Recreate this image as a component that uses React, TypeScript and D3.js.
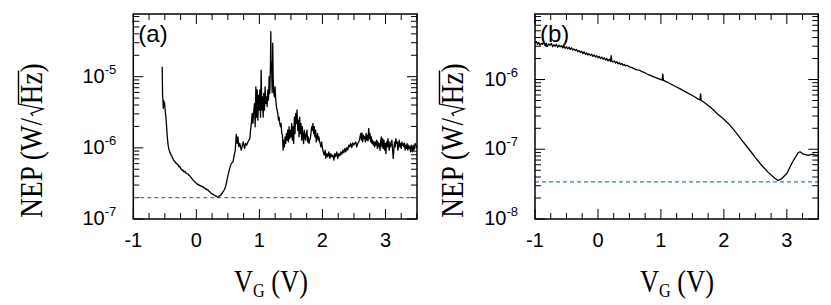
import React from 'react';
import * as d3 from 'd3';

// gate voltage tick labels (both panels)
const xTickLabels = [-1, 0, 1, 2, 3];
// decade labels on the log axes
const yLabelsA = [1e-7, 1e-6, 1e-5];
const yLabelsB = [1e-8, 1e-7, 1e-6];
// dashed NEP floor lines
const floorA = 2.0e-7;
const floorB = 3.4e-8;

// panel (a): [VG (V), NEP (W/sqrt(Hz))]
const curveA: [number, number][] = [
  [-0.542, 1.38e-5], [-0.538, 8.0e-6], [-0.536, 5.5e-6], [-0.530, 4.6e-6], [-0.524, 3.6e-6],
  [-0.517, 4.6e-6], [-0.510, 3.9e-6], [-0.504, 4.3e-6], [-0.494, 3.3e-6], [-0.483, 2.7e-6],
  [-0.472, 2.0e-6], [-0.463, 1.5e-6], [-0.455, 1.25e-6], [-0.447, 1.09e-6], [-0.439, 9.8e-7],
  [-0.431, 9.3e-7], [-0.420, 8.6e-7], [-0.409, 8.4e-7], [-0.399, 7.8e-7], [-0.389, 7.7e-7],
  [-0.379, 7.2e-7], [-0.368, 7.0e-7], [-0.355, 6.5e-7], [-0.341, 6.5e-7], [-0.328, 6.1e-7],
  [-0.314, 6.1e-7], [-0.300, 5.8e-7], [-0.289, 5.8e-7], [-0.275, 5.4e-7], [-0.262, 5.5e-7],
  [-0.248, 5.1e-7], [-0.235, 5.0e-7], [-0.222, 4.8e-7], [-0.210, 4.85e-7], [-0.196, 4.6e-7],
  [-0.183, 4.7e-7], [-0.170, 4.45e-7], [-0.156, 4.4e-7], [-0.143, 4.3e-7], [-0.131, 4.3e-7],
  [-0.117, 4.1e-7], [-0.104, 4.05e-7], [-0.090, 3.9e-7], [-0.077, 3.8e-7], [-0.064, 3.62e-7],
  [-0.052, 3.52e-7], [-0.038, 3.42e-7], [-0.025, 3.35e-7], [-0.011, 3.22e-7], [0.002, 3.18e-7],
  [0.015, 3.06e-7], [0.027, 3.08e-7], [0.040, 2.98e-7], [0.054, 3.0e-7], [0.067, 2.9e-7],
  [0.081, 2.92e-7], [0.094, 2.83e-7], [0.106, 2.84e-7], [0.120, 2.74e-7], [0.133, 2.73e-7],
  [0.147, 2.64e-7], [0.160, 2.64e-7], [0.172, 2.55e-7], [0.185, 2.56e-7], [0.199, 2.46e-7],
  [0.212, 2.42e-7], [0.226, 2.32e-7], [0.239, 2.3e-7], [0.252, 2.24e-7], [0.264, 2.24e-7],
  [0.278, 2.17e-7], [0.291, 2.17e-7], [0.305, 2.1e-7], [0.318, 2.1e-7], [0.330, 2.05e-7],
  [0.343, 2.03e-7], [0.356, 2.07e-7], [0.370, 2.12e-7], [0.384, 2.15e-7], [0.397, 2.23e-7],
  [0.410, 2.3e-7], [0.422, 2.4e-7], [0.436, 2.5e-7], [0.449, 2.62e-7], [0.462, 2.85e-7],
  [0.475, 3.15e-7], [0.502, 4.1e-7], [0.528, 5.1e-7], [0.554, 6.0e-7], [0.581, 6.35e-7],
  [0.596, 7.5e-7], [0.618, 9.3e-7], [0.633, 1.56e-6], [0.649, 1.15e-6], [0.660, 1.43e-6],
  [0.675, 1.03e-6], [0.691, 1.15e-6], [0.712, 9.3e-7], [0.728, 1.06e-6], [0.744, 1.21e-6],
  [0.765, 9.8e-7], [0.781, 1.15e-6], [0.797, 1.09e-6], [0.818, 1.21e-6], [0.833, 1.28e-6],
  [0.849, 1.35e-6], [0.860, 1.77e-6], [0.870, 2.08e-6], [0.886, 3.05e-6], [0.897, 2.2e-6],
  [0.912, 3.4e-6], [0.923, 4.2e-6], [0.933, 1.98e-6], [0.944, 7.2e-6], [0.955, 2.7e-6],
  [0.965, 6.5e-6], [0.976, 2.45e-6], [0.986, 5.5e-6], [0.997, 3.4e-6], [1.007, 6.5e-6],
  [1.018, 2.7e-6], [1.028, 1.24e-5], [1.039, 3.4e-6], [1.049, 5.2e-6], [1.060, 2.7e-6],
  [1.070, 5.8e-6], [1.081, 3.4e-6], [1.091, 7.2e-6], [1.102, 4.2e-6], [1.113, 5.2e-6],
  [1.123, 3.8e-6], [1.134, 6.5e-6], [1.144, 4.7e-6], [1.155, 1.0e-5], [1.165, 5.8e-6],
  [1.176, 1.5e-5], [1.181, 4.31e-5], [1.186, 1.2e-5], [1.192, 1.6e-5], [1.203, 6.0e-6],
  [1.212, 2.95e-5], [1.218, 1.0e-5], [1.228, 5.8e-6], [1.239, 5.2e-6], [1.249, 7.2e-6],
  [1.260, 4.7e-6], [1.270, 3.8e-6], [1.281, 3.4e-6], [1.292, 3.05e-6], [1.302, 2.45e-6],
  [1.313, 2.7e-6], [1.323, 2.2e-6], [1.334, 1.98e-6], [1.344, 2.2e-6], [1.355, 1.59e-6],
  [1.365, 1.51e-6], [1.376, 9.3e-7], [1.386, 1.28e-6], [1.397, 1.03e-6], [1.407, 1.43e-6],
  [1.418, 1.15e-6], [1.428, 1.59e-6], [1.439, 1.28e-6], [1.450, 1.77e-6], [1.460, 1.21e-6],
  [1.471, 1.98e-6], [1.481, 1.35e-6], [1.492, 1.77e-6], [1.502, 1.43e-6], [1.513, 2.2e-6],
  [1.523, 1.28e-6], [1.534, 1.98e-6], [1.544, 1.15e-6], [1.555, 2.7e-6], [1.565, 1.59e-6],
  [1.576, 3.05e-6], [1.586, 2.2e-6], [1.597, 3.4e-6], [1.608, 1.77e-6], [1.618, 2.45e-6],
  [1.629, 1.43e-6], [1.639, 2.7e-6], [1.650, 1.59e-6], [1.660, 2.2e-6], [1.671, 1.28e-6],
  [1.681, 1.98e-6], [1.692, 1.43e-6], [1.702, 1.15e-6], [1.713, 1.77e-6], [1.723, 1.43e-6],
  [1.734, 1.28e-6], [1.744, 1.59e-6], [1.755, 1.77e-6], [1.766, 1.21e-6], [1.776, 1.43e-6],
  [1.787, 1.15e-6], [1.797, 1.28e-6], [1.808, 1.35e-6], [1.818, 1.59e-6], [1.829, 1.98e-6],
  [1.839, 1.77e-6], [1.850, 2.2e-6], [1.860, 1.59e-6], [1.871, 1.98e-6], [1.881, 1.43e-6],
  [1.892, 1.77e-6], [1.902, 1.21e-6], [1.913, 1.43e-6], [1.923, 1.59e-6], [1.934, 1.28e-6],
  [1.944, 1.43e-6], [1.955, 1.21e-6], [1.966, 1.15e-6], [1.976, 1.03e-6], [1.987, 1.21e-6],
  [1.997, 1.03e-6], [2.012, 8.8e-7], [2.028, 7.9e-7], [2.044, 9.3e-7], [2.054, 7.1e-7],
  [2.070, 8.3e-7], [2.086, 7.5e-7], [2.102, 8.8e-7], [2.118, 7.1e-7], [2.133, 8.3e-7],
  [2.149, 7.5e-7], [2.165, 7.9e-7], [2.181, 6.7e-7], [2.197, 8.3e-7], [2.212, 7.5e-7],
  [2.228, 8.8e-7], [2.244, 7.1e-7], [2.260, 8.3e-7], [2.276, 7.7e-7], [2.291, 8.8e-7],
  [2.307, 8.1e-7], [2.323, 9.3e-7], [2.339, 8.5e-7], [2.354, 9.8e-7], [2.370, 8.8e-7],
  [2.386, 1.01e-6], [2.402, 9.3e-7], [2.418, 1.09e-6], [2.433, 1.03e-6], [2.449, 1.15e-6],
  [2.465, 1.01e-6], [2.481, 1.17e-6], [2.497, 1.09e-6], [2.512, 1.15e-6], [2.528, 1.21e-6],
  [2.544, 1.03e-6], [2.560, 1.15e-6], [2.576, 1.21e-6], [2.591, 1.35e-6], [2.607, 1.59e-6],
  [2.618, 1.28e-6], [2.628, 1.62e-6], [2.639, 1.21e-6], [2.649, 1.51e-6], [2.660, 1.35e-6],
  [2.670, 1.43e-6], [2.681, 1.21e-6], [2.692, 1.59e-6], [2.702, 1.28e-6], [2.713, 1.51e-6],
  [2.723, 1.25e-6], [2.734, 1.87e-6], [2.744, 1.35e-6], [2.755, 1.59e-6], [2.765, 1.21e-6],
  [2.776, 1.43e-6], [2.786, 1.15e-6], [2.797, 1.28e-6], [2.807, 1.09e-6], [2.818, 1.21e-6],
  [2.828, 1.03e-6], [2.839, 1.21e-6], [2.849, 1.09e-6], [2.860, 1.28e-6], [2.871, 9.8e-7],
  [2.881, 1.21e-6], [2.892, 1.03e-6], [2.902, 1.15e-6], [2.913, 9.3e-7], [2.923, 1.21e-6],
  [2.934, 1.43e-6], [2.944, 1.03e-6], [2.955, 1.35e-6], [2.965, 9.8e-7], [2.976, 1.28e-6],
  [2.986, 9.3e-7], [2.997, 1.15e-6], [3.007, 8.3e-7], [3.018, 1.21e-6], [3.029, 1.03e-6],
  [3.039, 1.35e-6], [3.050, 1.09e-6], [3.060, 9.3e-7], [3.071, 1.21e-6], [3.081, 1.03e-6],
  [3.092, 1.15e-6], [3.102, 1.28e-6], [3.113, 9.3e-7], [3.123, 7.1e-7], [3.134, 9.8e-7],
  [3.144, 1.21e-6], [3.155, 1.03e-6], [3.165, 1.35e-6], [3.176, 1.15e-6], [3.186, 1.21e-6],
  [3.197, 9.3e-7], [3.207, 1.09e-6], [3.218, 1.28e-6], [3.229, 1.03e-6], [3.239, 1.15e-6],
  [3.250, 9.8e-7], [3.260, 1.21e-6], [3.271, 1.09e-6], [3.281, 1.15e-6], [3.292, 1.03e-6],
  [3.302, 1.17e-6], [3.313, 9.3e-7], [3.323, 1.09e-6], [3.334, 9.8e-7], [3.344, 1.15e-6],
  [3.355, 9.3e-7], [3.366, 1.09e-6], [3.376, 9.8e-7], [3.387, 1.03e-6], [3.397, 8.8e-7],
  [3.408, 1.09e-6], [3.418, 9.8e-7], [3.429, 8.8e-7], [3.439, 1.09e-6], [3.450, 9.3e-7],
  [3.460, 1.03e-6], [3.471, 1.15e-6], [3.500, 1.0e-6],
];

// panel (b)
const curveB: [number, number][] = [
  [-1.00, 3.3e-6], [-0.98, 3.5e-6], [-0.96, 3.2e-6], [-0.94, 3.4e-6], [-0.92, 3.1e-6],
  [-0.90, 3.3e-6], [-0.88, 3.2e-6], [-0.86, 3.45e-6], [-0.84, 3.1e-6], [-0.82, 3.3e-6],
  [-0.80, 3.0e-6], [-0.78, 3.25e-6], [-0.76, 3.1e-6], [-0.74, 3.3e-6], [-0.72, 2.95e-6],
  [-0.70, 3.15e-6], [-0.68, 3.0e-6], [-0.66, 3.2e-6], [-0.64, 2.9e-6], [-0.62, 3.1e-6],
  [-0.60, 2.95e-6], [-0.58, 3.05e-6], [-0.56, 2.85e-6], [-0.54, 3.0e-6], [-0.52, 2.8e-6],
  [-0.50, 2.95e-6], [-0.48, 2.75e-6], [-0.46, 2.9e-6], [-0.44, 2.7e-6], [-0.42, 2.85e-6],
  [-0.40, 2.65e-6], [-0.38, 2.75e-6], [-0.36, 2.6e-6], [-0.34, 2.7e-6], [-0.32, 2.5e-6],
  [-0.30, 2.6e-6], [-0.28, 2.45e-6], [-0.26, 2.55e-6], [-0.24, 2.35e-6], [-0.22, 2.5e-6],
  [-0.20, 2.3e-6], [-0.18, 2.4e-6], [-0.16, 2.25e-6], [-0.14, 2.35e-6], [-0.12, 2.2e-6],
  [-0.10, 2.3e-6], [-0.08, 2.15e-6], [-0.06, 2.25e-6], [-0.04, 2.1e-6], [-0.02, 2.2e-6],
  [0.00, 2.05e-6], [0.02, 2.15e-6], [0.04, 2.0e-6], [0.06, 2.1e-6], [0.08, 1.95e-6],
  [0.10, 2.05e-6], [0.12, 1.9e-6], [0.14, 2.0e-6], [0.16, 1.85e-6], [0.18, 1.95e-6],
  [0.20, 1.82e-6], [0.21, 2.2e-6], [0.22, 1.85e-6], [0.24, 1.78e-6], [0.26, 1.85e-6],
  [0.28, 1.72e-6], [0.30, 1.8e-6], [0.32, 1.68e-6], [0.34, 1.74e-6], [0.36, 1.64e-6],
  [0.38, 1.7e-6], [0.40, 1.6e-6], [0.42, 1.65e-6], [0.44, 1.56e-6], [0.46, 1.6e-6],
  [0.50, 1.52e-6], [0.54, 1.48e-6], [0.58, 1.42e-6], [0.62, 1.38e-6], [0.66, 1.36e-6],
  [0.70, 1.3e-6], [0.74, 1.26e-6], [0.78, 1.2e-6], [0.82, 1.16e-6], [0.86, 1.12e-6],
  [0.90, 1.08e-6], [0.95, 1.04e-6], [1.00, 1.0e-6], [1.02, 9.8e-7], [1.03, 1.2e-6],
  [1.04, 9.7e-7], [1.10, 9.2e-7], [1.20, 8.2e-7], [1.30, 7.4e-7], [1.40, 6.6e-7],
  [1.50, 5.9e-7], [1.60, 5.2e-7], [1.62, 5.1e-7], [1.63, 6.2e-7], [1.64, 5.0e-7],
  [1.70, 4.6e-7], [1.80, 3.9e-7], [1.90, 3.2e-7], [2.00, 2.7e-7], [2.10, 2.2e-7],
  [2.20, 1.7e-7], [2.30, 1.3e-7], [2.40, 1.0e-7], [2.50, 7.6e-8], [2.60, 5.9e-8],
  [2.70, 4.7e-8], [2.80, 3.9e-8], [2.86, 3.56e-8], [2.92, 3.8e-8], [3.00, 4.5e-8],
  [3.08, 6.3e-8], [3.14, 7.8e-8], [3.18, 8.9e-8], [3.21, 9.2e-8], [3.26, 8.5e-8],
  [3.30, 8.4e-8], [3.34, 8.2e-8], [3.38, 8.4e-8], [3.42, 8.5e-8], [3.46, 8.2e-8],
  [3.50, 8.4e-8],
];

const TOP = 14;
const BOTTOM = 219;
const SANS = 'Liberation Sans, Arial, sans-serif';
const SERIF = 'Liberation Serif, Times New Roman, serif';
const TITLE_SIZE = 31;

// NEP (W/√Hz): text with a gap where the radical goes; the radical and its bar are drawn
// (Liberation Serif = Times metrics: "NEP (W/" = 3.694em, "Hz" = 1.166em, ")" = .333em)
function YTitle({ cx }) {
  const f = TITLE_SIZE;
  const gap = 0.5 * f;
  const total = (3.694 + 1.499) * f + gap;
  const x0 = -total / 2;
  const rs = x0 + 3.694 * f;       // radical start
  const hz = rs + gap;            // "Hz" start
  const hzEnd = hz + 1.166 * f;
  return (
    <g transform={`translate(${cx},140) rotate(-90) scale(0.88,1)`}>
      <text x={x0} y={0} fontFamily={SERIF} fontSize={f}>
        NEP (W/<tspan dx={gap}>Hz)</tspan>
      </text>
      <path d={`M${rs + 1},${-9} L${rs + 4},${-11} L${rs + 9},${1} L${hz - 1},${-23.5} L${hzEnd + 1},${-23.5}`}
        fill="none" stroke="#000" strokeWidth={1.4} strokeLinejoin="miter" />
    </g>
  );
}

function Panel({ left, right, yDomain, curve, floor, yLabels, tag, yTitleX, xTitleX }) {
  const x = d3.scaleLinear().domain([-1, 3.5]).range([left, right]);
  const y = d3.scaleLog().domain(yDomain).range([BOTTOM, TOP]);
  const line = d3.line<[number, number]>().x(d => x(d[0])).y(d => y(d[1]));

  const xTicks = d3.range(-1, 3.5 + 1e-9, 0.25);
  const yTicks = y.ticks();
  const isDecade = (t: number) => Math.abs(Math.log10(t) - Math.round(Math.log10(t))) < 1e-6;
  const isInt = (v: number) => Math.abs(v - Math.round(v)) < 1e-6;

  return (
    <g>
      {/* ticks, inward on all four sides */}
      {xTicks.map((v, i) => {
        const len = isInt(v) ? 10 : 6;
        return (
          <g key={'x' + i} stroke="#000" strokeWidth={1}>
            <line x1={x(v)} x2={x(v)} y1={BOTTOM} y2={BOTTOM - len} />
            <line x1={x(v)} x2={x(v)} y1={TOP} y2={TOP + len} />
          </g>
        );
      })}
      {yTicks.map((t, i) => {
        const len = isDecade(t) ? 10 : 6;
        return (
          <g key={'y' + i} stroke="#000" strokeWidth={1}>
            <line x1={left} x2={left + len} y1={y(t)} y2={y(t)} />
            <line x1={right} x2={right - len} y1={y(t)} y2={y(t)} />
          </g>
        );
      })}

      <line x1={left} x2={right} y1={y(floor)} y2={y(floor)}
        stroke="#3c78d2" strokeWidth={1.3} strokeDasharray="4 3" />

      <path d={line(curve) || ''} fill="none" stroke="#000" strokeWidth={1.3} strokeLinejoin="round" />

      <rect x={left} y={TOP} width={right - left} height={BOTTOM - TOP}
        fill="none" stroke="#000" strokeWidth={1.5} />

      {xTickLabels.map(v => (
        <text key={'xl' + v} x={x(v)} y={BOTTOM + 28} textAnchor="middle"
          fontFamily={SANS} fontSize={20}>{v}</text>
      ))}
      {yLabels.map(t => (
        <text key={'yl' + t} x={left - 17} y={y(t) + 6} textAnchor="end"
          fontFamily={SANS} fontSize={20}>
          10<tspan dy={-9} fontSize={13}>{String(Math.round(Math.log10(t)))}</tspan>
        </text>
      ))}

      <text x={left + 5} y={42} fontFamily={SANS} fontSize={24}>{tag}</text>

      <YTitle cx={yTitleX} />
      <g transform={`translate(${xTitleX},291.7) scale(0.85,1)`}>
        <text textAnchor="middle" fontFamily={SERIF} fontSize={TITLE_SIZE}>
          V<tspan fontSize={19} dy={5}>G</tspan><tspan dy={-5}> (V)</tspan>
        </text>
      </g>
    </g>
  );
}

export default function App() {
  return (
    <svg width={831} height={305} style={{ position: 'absolute', left: 0, top: 0, background: '#fff' }}>
      <Panel left={133.3} right={417} yDomain={[1e-7, 7.6e-5]} curve={curveA} floor={floorA}
        yLabels={yLabelsA} tag="(a)" yTitleX={42} xTitleX={271} />
      <Panel left={535} right={818.3} yDomain={[1e-8, 8.7e-6]} curve={curveB} floor={floorB}
        yLabels={yLabelsB} tag="(b)" yTitleX={463} xTitleX={677} />
    </svg>
  );
}
